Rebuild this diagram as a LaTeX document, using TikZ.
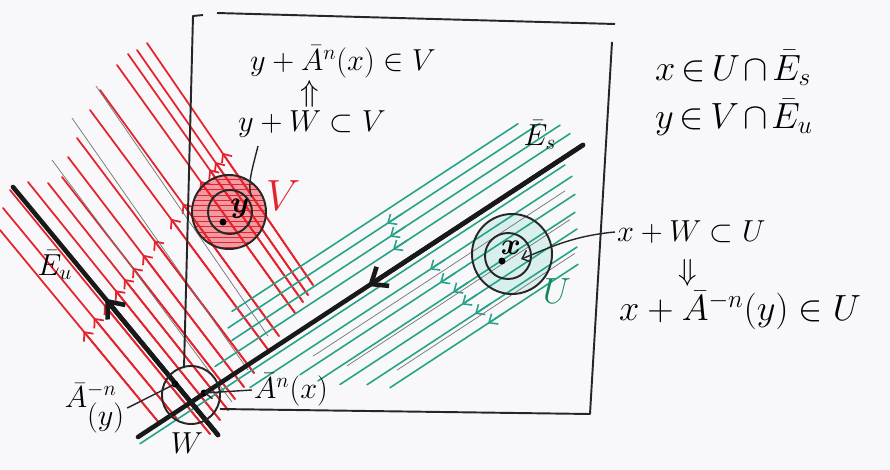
\documentclass[tikz,border=0pt]{standalone}
\usepackage{xcolor}
\usepackage{amsmath}
\usetikzlibrary{positioning,arrows.meta,calc,patterns}

\definecolor{paper}{HTML}{F8F8FA}
\definecolor{sketchred}{HTML}{E5232D}
\definecolor{sketchgreen}{HTML}{25A287}
\definecolor{ugreen}{HTML}{138A5E}
\definecolor{ufill}{HTML}{D8EFEE}
\definecolor{vfill}{HTML}{F29AA2}
\newcommand{\tightsp}{\medmuskip=2mu\thickmuskip=3mu}

\begin{document}
\begin{tikzpicture}[
    x=0.02cm, y=-0.02cm,
    every node/.style={font=\LARGE, inner sep=1pt},
    tight/.style={font=\huge},
    redline/.style={draw=sketchred, line width=1pt, line cap=round},
    greenline/.style={draw=sketchgreen, line width=0.9pt, line cap=round},
    pencil/.style={draw=black!55, line width=0.4pt},
    axisline/.style={draw=black!90, line width=2.6pt, line cap=round},
    boxline/.style={draw=black!85, line width=1.1pt, line join=round},
    ring/.style={draw=black!85, line width=1.1pt},
    lead/.style={draw=black!85, line width=0.8pt},
    smalltip/.style={-{Straight Barb[length=4pt,width=7pt]}},
    bigtip/.style={-{Straight Barb[length=8pt,width=13pt]}}
]
\fill[paper] (0,0) rectangle (890,470);
\useasboundingbox (0,0) rectangle (890,470);

\coordinate (eu1) at (13,187);
\coordinate (eu2) at (218,435);
\coordinate (es1) at (138,437);
\coordinate (es2) at (583,145);
\coordinate (vc) at (229,212);
\coordinate (vci) at (230,212);
\coordinate (xc) at (512,254);
\coordinate (xci) at (508,256);
\coordinate (wc) at (191,395);
\coordinate (ta) at (82,333);
\coordinate (tb) at (226,148);

\fill[vfill] (vc) circle (37);
\fill[pattern=horizontal lines, pattern color=sketchred] (vc) circle (37);
\fill[ufill] (xc) circle (40);

\foreach \sx/\sy/\ex/\ey in {147/43/313/285, 137/50/308/295, 128/54/303/302,
    117/65/295/313, 100/90/279/336, 90/110/269/351, 77/138/254/373,
    68/157/244/387, 62/177/235/399, 48/183/228/410, 28/182/220/420,
    10/190/210/434, 3/208/178/420, 0/230/160/424} {
  \coordinate (rs) at (\sx,\sy);
  \coordinate (re) at (\ex,\ey);
  \draw[redline] (rs) -- (re);
  \draw[redline, smalltip] (re) -- (intersection of rs--re and ta--tb);
}
\foreach \sx/\sy/\ex/\ey in {96/86/268/336, 72/118/248/370, 52/160/232/402}
  \draw[pencil] (\sx,\sy) -- (\ex,\ey);

\foreach \d/\xl/\xr in {-64/232/518, -50/228/540, -35/232/560, -20/215/570,
    8/140/565, 24/250/572, 44/300/575, 62/318/575, 80/340/577, 98/367/577, 116/390/578}
  \draw[greenline] (\xl,{437-0.656*(\xl-138)+\d}) -- (\xr,{437-0.656*(\xr-138)+\d});
\foreach \d/\xa in {-50/387, -35/390, -20/393, 24/430, 44/440, 62/453, 80/462, 98/475, 116/488}
  \draw[greenline, smalltip] ({\xa+15},{437-0.656*(\xa+15-138)+\d}) -- (\xa,{437-0.656*(\xa-138)+\d});
\foreach \d/\xl/\xr in {34/313/565, 66/347/570, 103/397/575}
  \draw[pencil] (\xl,{437-0.656*(\xl-138)+\d}) -- (\xr,{437-0.656*(\xr-138)+\d});

\draw[boxline] (184,368) -- (193,16) -- (203,15);
\draw[boxline] (217,13) -- (615,24);
\draw[boxline] (612,42) -- (590,414) -- (220,409);

\draw[axisline] (eu1) -- (eu2);
\draw[axisline] (es1) -- (es2);
\draw[axisline, bigtip] (eu2) -- ($(eu1)!0.45!(eu2)$);
\draw[axisline, bigtip] (es2) -- ($(es1)!0.517!(es2)$);

\draw[ring] (vc) circle (37);
\draw[ring] (vci) circle (22);
\draw[ring] (xc) circle (40);
\draw[ring] (xci) circle (23);
\draw[ring] (wc) circle (29);

\coordinate (ydot) at (223,222);
\coordinate (xdot) at (502,261);
\coordinate (ady) at (175,384);
\coordinate (adx) at (204,393);
\foreach \p in {ydot, xdot, ady, adx}
  \fill (\p) circle (3.5);

\node (ylab) at (240,209) {$\boldsymbol{y}$};
\node (xlab) at (511,248) {$\boldsymbol{x}$};
\node[text=sketchred, font=\Huge] (vlab) at (283,196) {$V$};
\node[text=ugreen, font=\huge] (ulab) at (557,291) {$U$};
\node (wlab) at (187,443) {$W$};
\node (eslab) at (540,135) {$\bar E_s$};
\node (eulab) at (55,265) {$\bar E_u$};

\node (yav) at (343,62) {$y+\bar A^{n}(x)\in V$};
\node (uparr) at (310,94) {$\Uparrow$};
\node (ywv) at (312,124) {$y+W\subset V$};
\node[anchor=west, tight] (xin) at (653,68) {$\tightsp x\in U\cap\bar E_s$};
\node[anchor=west, tight] (yin) at (653,117) {$\tightsp y\in V\cap\bar E_u$};
\node[anchor=west] (xwu) at (615,232) {$x+W\subset U$};
\node (dnarr) at (688,273) {$\Downarrow$};
\node[anchor=west, font=\huge] (xau) at (617,310) {$x+\bar A^{-n}(y)\in U$};
\node (aminus) at (95,408) {$\bar A^{-n}_{\textstyle(y)}$};
\node (aplus) at (291,390) {$\bar A^{n}(x)$};

\coordinate (ywvfoot) at (258,146);
\coordinate (xpt) at (521,259);
\draw[lead] (ywvfoot) .. controls (252,170) and (247,185) .. (ylab.north east);
\draw[lead, smalltip] (xwu.west) .. controls (570,236) and (545,250) .. (xpt);
\draw[lead] (aminus.east) -- (ady);
\draw[lead, smalltip] (aplus.west) -- (adx);
\end{tikzpicture}
\end{document}
